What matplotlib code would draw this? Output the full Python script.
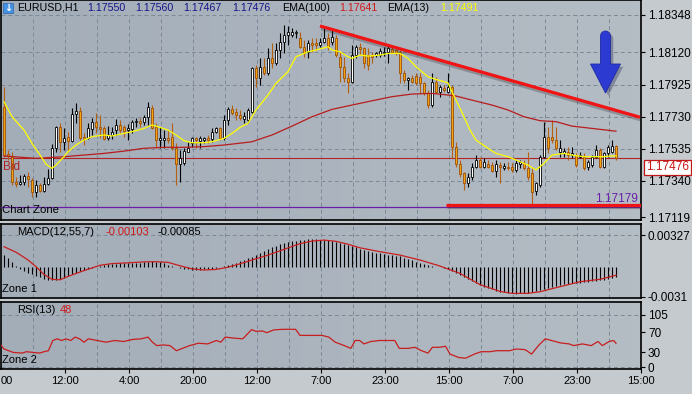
import numpy as np
import matplotlib
matplotlib.use("Agg")
import matplotlib.pyplot as plt
import matplotlib.patheffects as pe
from matplotlib.patches import Polygon, Rectangle
from matplotlib.colors import LinearSegmentedColormap

plt.rcParams['font.family'] = ['Liberation Sans', 'DejaVu Sans']

# -------------------------------
# EURUSD H1 candles
# -------------------------------
opens = [
    1.17786, 1.17500, 1.17486, 1.17334, 1.17318, 1.17330, 1.17368, 1.17344,
    1.17273, 1.17314, 1.17279, 1.17320, 1.17354, 1.17537, 1.17668, 1.17577,
    1.17604, 1.17583, 1.17743, 1.17766, 1.17604, 1.17597, 1.17652, 1.17699,
    1.17668, 1.17658, 1.17597, 1.17618, 1.17648, 1.17679, 1.17664, 1.17648,
    1.17652, 1.17697, 1.17703, 1.17699, 1.17729, 1.17780, 1.17664, 1.17587,
    1.17587, 1.17597, 1.17608, 1.17541, 1.17440, 1.17446, 1.17516, 1.17567,
    1.17597, 1.17583, 1.17587, 1.17597, 1.17591, 1.17638, 1.17658, 1.17597,
    1.17709, 1.17774, 1.17760, 1.17739, 1.17713, 1.17709, 1.17760, 1.18023,
    1.17962, 1.18033, 1.17993, 1.18084, 1.18053, 1.18135, 1.18185, 1.18226,
    1.18226, 1.18240, 1.18206, 1.18155, 1.18124, 1.18175, 1.18175, 1.18165,
    1.18185, 1.18206, 1.18185, 1.18206, 1.18094, 1.18033, 1.17962, 1.17942,
    1.18104, 1.18155, 1.18145, 1.18104, 1.18104, 1.18104, 1.18104, 1.18118,
    1.18124, 1.18139, 1.18135, 1.18124, 1.17993, 1.17952, 1.17962, 1.17976,
    1.17972, 1.17932, 1.17871, 1.17800, 1.17942, 1.17881, 1.17902, 1.17881,
    1.17912, 1.17547, 1.17441, 1.17385, 1.17324, 1.17364, 1.17425, 1.17466,
    1.17425, 1.17441, 1.17435, 1.17401, 1.17435, 1.17415, 1.17425, 1.17425,
    1.17405, 1.17441, 1.17446, 1.17415, 1.17385, 1.17279, 1.17314, 1.17486,
    1.17608, 1.17608, 1.17587, 1.17516, 1.17506, 1.17516, 1.17496, 1.17496,
    1.17486, 1.17486, 1.17425, 1.17435, 1.17486, 1.17527, 1.17425, 1.17506,
    1.17516, 1.17550]
highs = [
    1.17912, 1.17527, 1.17516, 1.17364, 1.17374, 1.17381, 1.17395, 1.17354,
    1.17344, 1.17324, 1.17364, 1.17409, 1.17563, 1.17674, 1.17689, 1.17658,
    1.17638, 1.17780, 1.17810, 1.17786, 1.17632, 1.17689, 1.17719, 1.17749,
    1.17739, 1.17672, 1.17672, 1.17664, 1.17713, 1.17709, 1.17679, 1.17685,
    1.17709, 1.17719, 1.17719, 1.17739, 1.17820, 1.17800, 1.17689, 1.17664,
    1.17648, 1.17648, 1.17689, 1.17567, 1.17527, 1.17537, 1.17577, 1.17608,
    1.17608, 1.17612, 1.17608, 1.17618, 1.17658, 1.17664, 1.17668, 1.17739,
    1.17786, 1.17800, 1.17780, 1.17770, 1.17760, 1.17780, 1.18033, 1.18043,
    1.18084, 1.18084, 1.18145, 1.18175, 1.18175, 1.18236, 1.18287, 1.18281,
    1.18266, 1.18256, 1.18246, 1.18195, 1.18195, 1.18206, 1.18206, 1.18206,
    1.18266, 1.18236, 1.18266, 1.18226, 1.18124, 1.18094, 1.17993, 1.18165,
    1.18165, 1.18175, 1.18155, 1.18145, 1.18124, 1.18124, 1.18145, 1.18155,
    1.18159, 1.18159, 1.18145, 1.18135, 1.18013, 1.17972, 1.17982, 1.17993,
    1.17993, 1.17942, 1.17891, 1.17993, 1.17972, 1.17922, 1.17922, 1.17993,
    1.17922, 1.17577, 1.17466, 1.17395, 1.17385, 1.17446, 1.17496, 1.17486,
    1.17476, 1.17466, 1.17456, 1.17466, 1.17456, 1.17446, 1.17456, 1.17446,
    1.17466, 1.17466, 1.17466, 1.17516, 1.17415, 1.17334, 1.17496, 1.17699,
    1.17668, 1.17709, 1.17668, 1.17587, 1.17537, 1.17547, 1.17547, 1.17506,
    1.17516, 1.17506, 1.17466, 1.17496, 1.17557, 1.17537, 1.17516, 1.17557,
    1.17587, 1.17560]
lows = [
    1.17486, 1.17466, 1.17314, 1.17303, 1.17314, 1.17314, 1.17303, 1.17243,
    1.17243, 1.17273, 1.17269, 1.17314, 1.17348, 1.17512, 1.17516, 1.17527,
    1.17516, 1.17577, 1.17689, 1.17587, 1.17557, 1.17591, 1.17618, 1.17628,
    1.17597, 1.17587, 1.17587, 1.17591, 1.17618, 1.17628, 1.17608, 1.17587,
    1.17628, 1.17664, 1.17668, 1.17679, 1.17679, 1.17652, 1.17537, 1.17537,
    1.17537, 1.17567, 1.17527, 1.17314, 1.17334, 1.17435, 1.17512, 1.17547,
    1.17541, 1.17537, 1.17571, 1.17567, 1.17577, 1.17628, 1.17587, 1.17587,
    1.17679, 1.17739, 1.17709, 1.17709, 1.17689, 1.17689, 1.17749, 1.17912,
    1.17922, 1.17982, 1.17982, 1.18023, 1.18043, 1.18084, 1.18114, 1.18165,
    1.18216, 1.18206, 1.18145, 1.18094, 1.18084, 1.18124, 1.18135, 1.18155,
    1.18175, 1.18135, 1.18165, 1.18094, 1.17942, 1.17942, 1.17871, 1.17932,
    1.18084, 1.18104, 1.18023, 1.18013, 1.18053, 1.18094, 1.18094, 1.18098,
    1.18053, 1.18114, 1.18104, 1.17932, 1.17932, 1.17891, 1.17932, 1.17922,
    1.17871, 1.17861, 1.17780, 1.17790, 1.17871, 1.17851, 1.17881, 1.17871,
    1.17476, 1.17425, 1.17364, 1.17283, 1.17303, 1.17344, 1.17415, 1.17415,
    1.17415, 1.17415, 1.17395, 1.17364, 1.17324, 1.17405, 1.17405, 1.17395,
    1.17395, 1.17415, 1.17405, 1.17344, 1.17172, 1.17253, 1.17303, 1.17476,
    1.17506, 1.17567, 1.17527, 1.17486, 1.17486, 1.17466, 1.17476, 1.17425,
    1.17476, 1.17405, 1.17405, 1.17425, 1.17476, 1.17415, 1.17415, 1.17486,
    1.17506, 1.17467]
closes = [
    1.17496, 1.17490, 1.17330, 1.17318, 1.17330, 1.17368, 1.17348, 1.17273,
    1.17314, 1.17279, 1.17320, 1.17354, 1.17537, 1.17668, 1.17577, 1.17597,
    1.17583, 1.17743, 1.17766, 1.17597, 1.17593, 1.17658, 1.17699, 1.17664,
    1.17656, 1.17593, 1.17618, 1.17638, 1.17679, 1.17648, 1.17644, 1.17658,
    1.17699, 1.17703, 1.17689, 1.17729, 1.17786, 1.17658, 1.17587, 1.17597,
    1.17597, 1.17587, 1.17537, 1.17440, 1.17476, 1.17520, 1.17541, 1.17597,
    1.17587, 1.17597, 1.17597, 1.17587, 1.17638, 1.17658, 1.17597, 1.17709,
    1.17774, 1.17749, 1.17739, 1.17719, 1.17733, 1.17770, 1.18023, 1.17962,
    1.18033, 1.17993, 1.18084, 1.18053, 1.18135, 1.18185, 1.18226, 1.18246,
    1.18246, 1.18246, 1.18155, 1.18114, 1.18175, 1.18165, 1.18165, 1.18185,
    1.18206, 1.18155, 1.18216, 1.18104, 1.18033, 1.17962, 1.17942, 1.18104,
    1.18155, 1.18139, 1.18053, 1.18043, 1.18094, 1.18114, 1.18131, 1.18124,
    1.18145, 1.18124, 1.18118, 1.17993, 1.17952, 1.17962, 1.17942, 1.17932,
    1.17932, 1.17871, 1.17800, 1.17942, 1.17881, 1.17912, 1.17891, 1.17912,
    1.17547, 1.17441, 1.17381, 1.17324, 1.17364, 1.17425, 1.17466, 1.17425,
    1.17456, 1.17425, 1.17401, 1.17441, 1.17425, 1.17429, 1.17415, 1.17405,
    1.17450, 1.17456, 1.17415, 1.17364, 1.17273, 1.17324, 1.17486, 1.17608,
    1.17537, 1.17587, 1.17537, 1.17537, 1.17520, 1.17496, 1.17506, 1.17435,
    1.17496, 1.17415, 1.17456, 1.17486, 1.17527, 1.17425, 1.17506, 1.17547,
    1.17551, 1.17476]

# EMA(13) and EMA(100) (bar index, price)
ema13_x = [0, 2, 5, 7, 9, 10.5, 12, 13, 15, 16, 18, 20, 22, 25, 27, 30, 32, 35, 37, 39,
           41, 43, 45, 47, 50, 52, 55, 57, 59, 61, 63, 66, 68, 71, 73, 76, 78, 81, 82, 84,
           86, 87, 89, 91, 94, 96, 99, 101, 103, 106, 108, 111, 112, 113, 114, 115, 116.5,
           118, 121, 123, 126, 128, 131, 133, 135, 137, 140, 142, 145, 147, 150, 151.5, 153]
ema13_y = [1.17820, 1.17729, 1.17648, 1.17567, 1.17496, 1.17441, 1.17415, 1.17435, 1.17486,
           1.17516, 1.17557, 1.17587, 1.17608, 1.17618, 1.17612, 1.17628, 1.17638, 1.17658,
           1.17679, 1.17664, 1.17648, 1.17618, 1.17583, 1.17571, 1.17571, 1.17577, 1.17597,
           1.17628, 1.17664, 1.17689, 1.17770, 1.17861, 1.17932, 1.18003, 1.18094, 1.18124,
           1.18135, 1.18155, 1.18135, 1.18124, 1.18094, 1.18084, 1.18104, 1.18098, 1.18104,
           1.18114, 1.18114, 1.18084, 1.18033, 1.17972, 1.17956, 1.17935, 1.17880, 1.17830,
           1.17780, 1.17729, 1.17648, 1.17587, 1.17537, 1.17506, 1.17486, 1.17466, 1.17435,
           1.17405, 1.17446, 1.17496, 1.17506, 1.17496, 1.17486, 1.17486, 1.17486, 1.17490,
           1.17491]
ema100_x = [0, 8, 15, 20, 25, 30, 35, 40, 45, 50, 55, 60, 62, 67, 72, 77, 82, 87, 92, 97,
            102, 107, 111, 113, 117, 122, 126, 130, 134, 138, 142, 147, 153]
ema100_y = [1.17490, 1.17476, 1.17486, 1.17496, 1.17506, 1.17520, 1.17537, 1.17543, 1.17543,
            1.17547, 1.17557, 1.17571, 1.17577, 1.17618, 1.17672, 1.17729, 1.17774, 1.17800,
            1.17826, 1.17851, 1.17867, 1.17871, 1.17861, 1.17855, 1.17830, 1.17800, 1.17770,
            1.17729, 1.17705, 1.17699, 1.17672, 1.17658, 1.17641]

# drawn objects: trend line, support line, chart zone
trend_x = [79, 159]
trend_y = [1.18281, 1.17726]
support_x = [110.5, 159.5]
support_price = 1.17195
zone_price = 1.17179

# MACD(12,55,7): histogram per bar, signal line
macd_hist = [
    0.00120, 0.00086, 0.00052, 0.00010,
    -0.00020, -0.00040, -0.00060, -0.00080, -0.00096, -0.00110, -0.00125, -0.00135,
    -0.00142, -0.00140, -0.00130, -0.00115, -0.00098, -0.00080, -0.00062, -0.00048,
    -0.00035, -0.00025, -0.00015, -0.00005,
    0.00010, 0.00020, 0.00025, 0.00030, 0.00033, 0.00035, 0.00036, 0.00037, 0.00038,
    0.00040, 0.00042, 0.00045, 0.00050, 0.00055, 0.00052, 0.00045, 0.00035, 0.00022, 0.00010,
    -0.00005, -0.00015, -0.00022, -0.00027, -0.00030, -0.00030, -0.00030, -0.00028,
    -0.00025, -0.00020, -0.00012, -0.00005,
    0.00005, 0.00015, 0.00028, 0.00040, 0.00055, 0.00070, 0.00085, 0.00105, 0.00125,
    0.00145, 0.00165, 0.00185, 0.00200, 0.00215, 0.00230, 0.00245, 0.00255, 0.00262,
    0.00270, 0.00275, 0.00280, 0.00282, 0.00283, 0.00282, 0.00280, 0.00277, 0.00272,
    0.00265, 0.00258,
    0.00245, 0.00235, 0.00225, 0.00212, 0.00200, 0.00188, 0.00177, 0.00166, 0.00155,
    0.00146, 0.00138, 0.00130, 0.00124, 0.00120, 0.00115, 0.00110, 0.00095, 0.00080,
    0.00065, 0.00050, 0.00034, 0.00024, 0.00014, 0.00007, 0.00002, -0.00004,
    -0.00012, -0.00025, -0.00040, -0.00060, -0.00082, -0.00105, -0.00128, -0.00150,
    -0.00170, -0.00188, -0.00205, -0.00220, -0.00234, -0.00246, -0.00256, -0.00265,
    -0.00272, -0.00276, -0.00277, -0.00276, -0.00273, -0.00268, -0.00260, -0.00250,
    -0.00240, -0.00229, -0.00218, -0.00208, -0.00198, -0.00190, -0.00183, -0.00177,
    -0.00172, -0.00168, -0.00164, -0.00160, -0.00155, -0.00150, -0.00144, -0.00138,
    -0.00132, -0.00125, -0.00116, -0.00103]
sig_x = [0, 3, 6, 8, 10, 12, 14, 16, 20, 24, 27, 31, 35, 38, 41, 44, 47, 50, 53, 56, 59,
         62, 66, 70, 74, 77, 80, 83, 86, 89, 94, 99, 104, 109, 114, 119, 124, 127, 131, 134,
         139, 144, 149, 153]
sig_y = [0.00206, 0.00150, 0.00070, 0.00000, -0.00080, -0.00130, -0.00135, -0.00100,
         -0.00040, 0.00015, 0.00032, 0.00040, 0.00050, 0.00052, 0.00045, 0.00010, -0.00022,
         -0.00034, -0.00028, -0.00005, 0.00030, 0.00069, 0.00120, 0.00179, 0.00238, 0.00265,
         0.00275, 0.00262, 0.00232, 0.00195, 0.00155, 0.00120, 0.00069, 0.00007, -0.00069,
         -0.00185, -0.00255, -0.00275, -0.00275, -0.00258, -0.00206, -0.00155, -0.00130,
         -0.00088]

# RSI(13)
rsi_x = [-1, 0, 2.3, 4.5, 5.6, 7.3, 8.9, 10, 11.1, 12.2, 13.3, 14.4, 15.5, 16.7, 17.8, 18.9,
         20, 21.1, 23.3, 25.5, 27.7, 29.9, 32.1, 34.3, 36, 37.1, 38.2, 39.8, 41.5, 43.1,
         44.2, 46.4, 48.6, 50.9, 53.1, 54.2, 55.3, 57.5, 59.7, 61.9, 63, 64.6, 65.7, 67.4,
         69.6, 72.9, 74, 76.2, 79.5, 81.2, 82.8, 85.1, 86.7, 87.8, 88.9, 90, 91.7, 93.9,
         97.7, 98.8, 101.1, 102.7, 104.4, 106, 107.1, 108.8, 110.4, 111.5, 113.7, 115.4,
         117.6, 119.3, 121.5, 123.1, 126.4, 128.1, 130.3, 131.9, 133.6, 135.3, 136.9, 139.1,
         141.3, 142.4, 144.6, 146.8, 148.5, 149.6, 151.3, 152.4, 153]
rsi_y = [46.6, 36.4, 29.5, 28.1, 30.9, 29.5, 28.1, 30.9, 32.9, 53.5, 56.9, 53.5, 56.9, 53.5,
         60.4, 56.9, 50.1, 56.9, 53.5, 50.1, 53.5, 51.5, 55.6, 56.9, 60.4, 50.1, 43.2, 44.6,
         43.2, 32.9, 36.4, 43.2, 48.0, 46.6, 53.5, 50.1, 60.4, 58.3, 56.9, 75.5, 72.0, 72.7,
         69.3, 74.8, 76.1, 76.1, 63.8, 63.8, 63.8, 60.4, 50.1, 43.2, 37.7, 53.5, 53.5, 46.6,
         51.5, 53.5, 53.5, 37.7, 37.7, 39.8, 32.9, 28.1, 39.8, 39.8, 41.8, 26.1, 19.2, 17.8,
         26.1, 30.9, 30.9, 32.9, 32.9, 36.4, 35.0, 26.1, 43.2, 56.9, 53.5, 48.7, 46.6, 43.2,
         46.6, 43.2, 51.5, 43.2, 51.5, 53.5, 48.0]

price_ticks = [1.18348, 1.18120, 1.17925, 1.17730, 1.17535, 1.17340, 1.17119]
macd_ticks = [0.00327, -0.0031]
rsi_ticks = [105, 70, 30, 0]
# the first label is only partly visible at the left edge in the original
time_labels = ["00", "12:00", "4:00", "20:00", "12:00", "7:00", "23:00",
               "15:00", "7:00", "23:00", "15:00"]

# -------------------------------
# layout (pixels of a 692x394 image)
# -------------------------------
W, H = 692, 394
fig = plt.figure(figsize=(W / 100, H / 100), dpi=100)
fig.patch.set_facecolor('#c5cacf')


def box(x0, y0, x1, y1):
    return [x0 / W, 1 - y1 / H, (x1 - x0) / W, (y1 - y0) / H]


def ftext(px, py, s, **kw):
    kw.setdefault('va', 'center')
    kw.setdefault('fontsize', 8)
    return fig.text(px / W, 1 - py / H, s, **kw)


ax = fig.add_axes(box(1, 0, 641, 220))
axm = fig.add_axes(box(1, 224, 641, 298))
axr = fig.add_axes(box(1, 302, 641, 369))

XMIN, XMAX = -0.75, 159.25
grid_x = np.arange(7.25, 159, 8)
grid_kw = dict(colors='#7b8997', linewidths=0.7, linestyles=(0, (4, 3)), zorder=1)
bg = LinearSegmentedColormap.from_list('bg', ['#a3adb8', '#b4bcc4'])

for a in (ax, axm, axr):
    a.imshow(np.linspace(0, 1, 64).reshape(1, -1), cmap=bg, extent=(0, 1, 0, 1),
             transform=a.transAxes, aspect='auto', zorder=0)
    a.set_xlim(XMIN, XMAX)
    a.set_xticks([])
    a.yaxis.tick_right()
    a.tick_params(axis='y', direction='out', length=3, width=0.8, pad=2,
                  labelsize=8.5, colors='black')
    for s in a.spines.values():
        s.set_color('black')
        s.set_linewidth(1.2)

# -------------------------------
# 1. price chart
# -------------------------------
ax.set_ylim(1.17101, 1.18439)
ax.set_yticks(price_ticks)
ax.set_yticklabels([f'{p:.5f}' for p in price_ticks])
ax.hlines(price_ticks[:-1], XMIN, XMAX, **grid_kw)
ax.vlines(grid_x, 1.17101, price_ticks[0], **grid_kw)

o, h, l, c = map(np.array, (opens, highs, lows, closes))
x = np.arange(len(c))
up = c >= o
ax.vlines(x[up], l[up], h[up], colors='black', linewidths=0.8, zorder=3)
ax.vlines(x[~up], l[~up], h[~up], colors='#b5600e', linewidths=0.8, zorder=3)
ax.bar(x, np.maximum(np.abs(c - o), 0.00004), bottom=np.minimum(o, c), width=0.72,
       color=np.where(up, 'white', '#f4a30e'), edgecolor=np.where(up, 'black', '#9a4e08'),
       linewidth=0.6, zorder=4)

ax.axhline(closes[-1], color='#b02626', lw=0.8, zorder=2)
ax.plot(ema100_x, ema100_y, color='#b81c1c', lw=0.9, zorder=5)
ax.plot(ema13_x, ema13_y, color='#ffff00', lw=0.9, zorder=5)

shadow = [pe.SimpleLineShadow(offset=(1, -2), shadow_color='#303030', alpha=0.3), pe.Normal()]
ax.plot(trend_x, trend_y, color='#f01414', lw=2.3, solid_capstyle='butt',
        path_effects=shadow, zorder=6)
ax.axhline(zone_price, color='#6b1fa8', lw=0.9, zorder=5)
ax.plot(support_x, [support_price] * 2, color='#f01414', lw=2.3, solid_capstyle='butt',
        path_effects=shadow, zorder=6)

# blue arrow (pixel outline, converted to axes fraction)
theta = np.linspace(np.pi, 0, 9)
arrow_px = [(605.5 + 5 * np.cos(t), 36 - 5 * np.sin(t)) for t in theta]
arrow_px += [(610.5, 64), (620.5, 64), (605.5, 93), (590.5, 64), (600.5, 64)]
arrow_ax = [((px - 1) / 640, (220 - py) / 220) for px, py in arrow_px]
ax.add_patch(Polygon(arrow_ax, closed=True, transform=ax.transAxes, facecolor='#2c3ad2',
                     edgecolor='#1f2aa0', lw=0.6, zorder=7,
                     path_effects=[pe.withSimplePatchShadow(offset=(2, -2), alpha=0.3)]))

# header
fig.add_artist(Rectangle((3 / W, 1 - 13 / H), 10 / W, 10 / H, transform=fig.transFigure,
                         facecolor='#4592e0', edgecolor='#2a64b0', lw=0.5, zorder=10))
ftext(8, 8, '↓', color='white', fontsize=7, fontweight='bold', ha='center', zorder=11,
      family='DejaVu Sans')
ftext(17, 8, 'EURUSD,H1', color='black', fontsize=7.7)
for px, val in [(87, '1.17550'), (135, '1.17560'), (183, '1.17467'), (232, '1.17476')]:
    ftext(px, 8, val, color='#15158a', fontsize=7.7)
ftext(282, 8, 'EMA(100)', color='black', fontsize=7.7)
ftext(339, 8, '1.17641', color='#d01818', fontsize=7.7)
ftext(387, 8, 'EMA(13)', color='black', fontsize=7.7)
ftext(440, 8, '1.17491', color='#ffff00', fontsize=7.7)

ftext(3, 167, 'Bid', color='#b22222', fontsize=8.5)
ftext(2, 210, 'Chart Zone', color='black', fontsize=8.2)
ftext(638, 199, f'{zone_price:.5f}', color='#6b1fa8', fontsize=8.5, ha='right')

# current price box
fig.add_artist(Rectangle((644 / W, 1 - 175 / H), 47 / W, 15 / H, transform=fig.transFigure,
                         facecolor='white', edgecolor='#c01818', lw=0.9, zorder=10))
ftext(667.5, 167.5, f'{closes[-1]:.5f}', color='#c81818', fontsize=8.5, ha='center', zorder=11)

# -------------------------------
# 2. MACD
# -------------------------------
axm.set_ylim(-0.00323, 0.00441)
axm.set_yticks(macd_ticks)
axm.set_yticklabels(['0.00327', '-0.0031'])
axm.hlines([macd_ticks[0]], XMIN, XMAX, **grid_kw)
axm.vlines(grid_x, -0.00323, 0.00441, **grid_kw)
axm.vlines(np.arange(len(macd_hist)), 0, macd_hist, colors='black', linewidths=0.8, zorder=3)
axm.plot(sig_x, sig_y, color='#c81e1e', lw=0.9, zorder=4)
ftext(17, 232, 'MACD(12,55,7)', color='black')
ftext(105, 232, '-0.00103', color='#d01818')
ftext(157, 232, '-0.00085', color='black')
ftext(2, 289, 'Zone 1', color='black')

# -------------------------------
# 3. RSI
# -------------------------------
axr.set_ylim(-4, 131.2)
axr.set_yticks(rsi_ticks)
axr.hlines([105, 0], XMIN, XMAX, **grid_kw)
axr.vlines(grid_x, -4, 131.2, **grid_kw)
axr.plot(rsi_x, rsi_y, color='#c81e1e', lw=0.9, zorder=4)
ftext(17, 310, 'RSI(13)', color='black')
ftext(60, 310, '48', color='#d01818')
ftext(2, 360, 'Zone 2', color='black')

label_x = [-0.75 + 16 * m for m in range(len(time_labels))]
axr.set_xticks(label_x[1:])
axr.tick_params(axis='x', direction='out', length=3, width=0.8, labelbottom=False)
ftext(1, 381, time_labels[0], ha='left')
for xi, lab in zip(label_x[1:], time_labels[1:]):
    axr.text(xi, -0.18, lab, transform=axr.get_xaxis_transform(), ha='center', va='center',
             fontsize=8, clip_on=False)

fig.savefig('out.png', dpi=100, facecolor=fig.get_facecolor())
